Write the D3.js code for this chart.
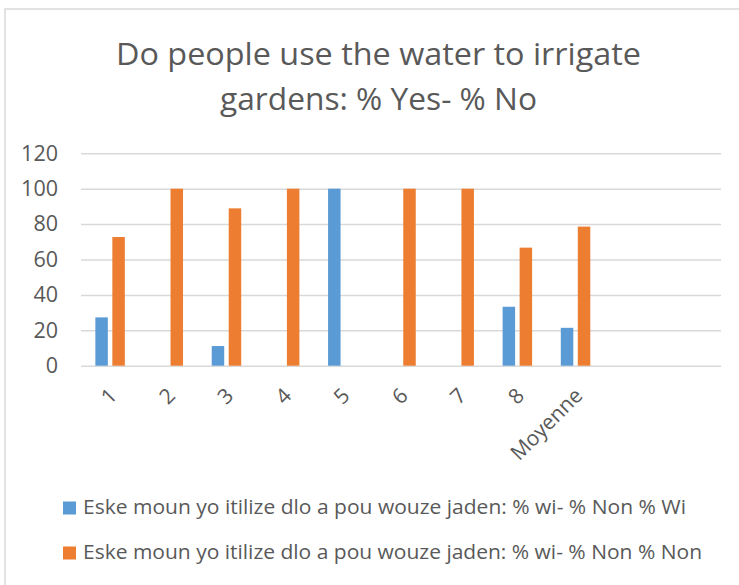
<!DOCTYPE html>
<html>
<head>
<meta charset="utf-8">
<script src="https://cdn.jsdelivr.net/npm/d3@7"></script>
<style>
  body { margin: 0; background: #fff; }
  svg { display: block; font-family: "Open Sans", "Noto Sans", sans-serif; }
</style>
</head>
<body>
<svg id="chart" width="739" height="585"></svg>
<script>
// data
var categories = ["1", "2", "3", "4", "5", "6", "7", "8", "Moyenne", "", ""];
var pctYes = [27.3, 0, 11.1, 0, 100, 0, 0, 33.3, 21.4];
var pctNo = [72.7, 100, 88.9, 100, 0, 100, 100, 66.7, 78.6];
var yTicks = [0, 20, 40, 60, 80, 100, 120];
var seriesNames = [
  "Eske moun yo itilize dlo a pou wouze jaden: % wi- % Non % Wi",
  "Eske moun yo itilize dlo a pou wouze jaden: % wi- % Non % Non"
];
var seriesColors = ["#5b9bd5", "#ed7d31"];
var titleLines = ["Do people use the water to irrigate", "gardens: % Yes- % No"];

var svg = d3.select("#chart");
var textColor = "#595959";
var gridColor = "#d9d9d9";

// chart border (only top / left show inside the frame)
svg.append("rect")
  .attr("x", 5).attr("y", 9)
  .attr("width", 760).attr("height", 600)
  .attr("fill", "none")
  .attr("stroke", gridColor)
  .attr("stroke-width", 1.5);

// title
svg.append("g").selectAll("text")
  .data(titleLines)
  .enter().append("text")
  .attr("x", 378.5)
  .attr("y", function (d, i) { return 65 + i * 45; })
  .attr("text-anchor", "middle")
  .attr("font-size", 31)
  .attr("fill", textColor)
  .attr("textLength", function (d, i) { return i === 0 ? 525 : 317; })
  .attr("lengthAdjust", "spacingAndGlyphs")
  .text(function (d) { return d; });

var x = d3.scaleBand()
  .domain(d3.range(categories.length))
  .range([81, 721])
  .paddingInner(0.493)
  .paddingOuter(0.2465);

var xSub = d3.scaleBand()
  .domain([0, 1])
  .range([0, x.bandwidth()])
  .paddingInner(0.265);

var y = d3.scaleLinear()
  .domain([0, 120])
  .range([365.7, 153.3]);

// gridlines
var yAxis = d3.axisLeft(y)
  .tickValues(yTicks)
  .tickSize(-(721 - 81))
  .tickPadding(23);

var gy = svg.append("g")
  .attr("transform", "translate(81,0)")
  .call(yAxis);
gy.select(".domain").remove();
gy.selectAll(".tick line")
  .attr("stroke", gridColor)
  .attr("stroke-width", 1.5);
gy.selectAll(".tick text")
  .attr("fill", textColor)
  .attr("font-size", 21.5)
  .attr("font-family", "Open Sans, Noto Sans, sans-serif");

// bars
var series = [pctYes, pctNo];
series.forEach(function (vals, s) {
  var rows = vals.map(function (v, i) { return { i: i, v: v }; })
    .filter(function (d) { return d.v > 0; });
  svg.append("g").selectAll("rect")
    .data(rows)
    .enter().append("rect")
    .attr("x", function (d) { return x(d.i) + xSub(s); })
    .attr("y", function (d) { return y(d.v); })
    .attr("width", xSub.bandwidth())
    .attr("height", function (d) { return y(0) - y(d.v); })
    .attr("fill", seriesColors[s]);
});

// x axis labels, rotated
var xAxis = d3.axisBottom(x)
  .tickSize(0)
  .tickFormat(function (i) { return categories[i]; });

var gx = svg.append("g")
  .attr("transform", "translate(0," + y(0) + ")")
  .call(xAxis);
gx.select(".domain").remove();
gx.selectAll(".tick text")
  .attr("fill", textColor)
  .attr("font-size", 21)
  .attr("font-family", "Open Sans, Noto Sans, sans-serif")
  .attr("text-anchor", "end")
  .attr("y", 0)
  .attr("dy", "0.35em")
  .attr("transform", "translate(3,26) rotate(-45)");

// legend
var legend = svg.append("g").selectAll("g")
  .data(seriesNames)
  .enter().append("g")
  .attr("transform", function (d, i) { return "translate(0," + (i * 45) + ")"; });

legend.append("rect")
  .attr("x", 63).attr("y", 501.5)
  .attr("width", 13).attr("height", 13)
  .attr("fill", function (d, i) { return seriesColors[i]; });

legend.append("text")
  .attr("x", 83).attr("y", 514)
  .attr("font-size", 19.5)
  .attr("fill", textColor)
  .attr("textLength", function (d, i) { return i === 0 ? 603 : 619; })
  .attr("lengthAdjust", "spacingAndGlyphs")
  .text(function (d) { return d; });
</script>
</body>
</html>
